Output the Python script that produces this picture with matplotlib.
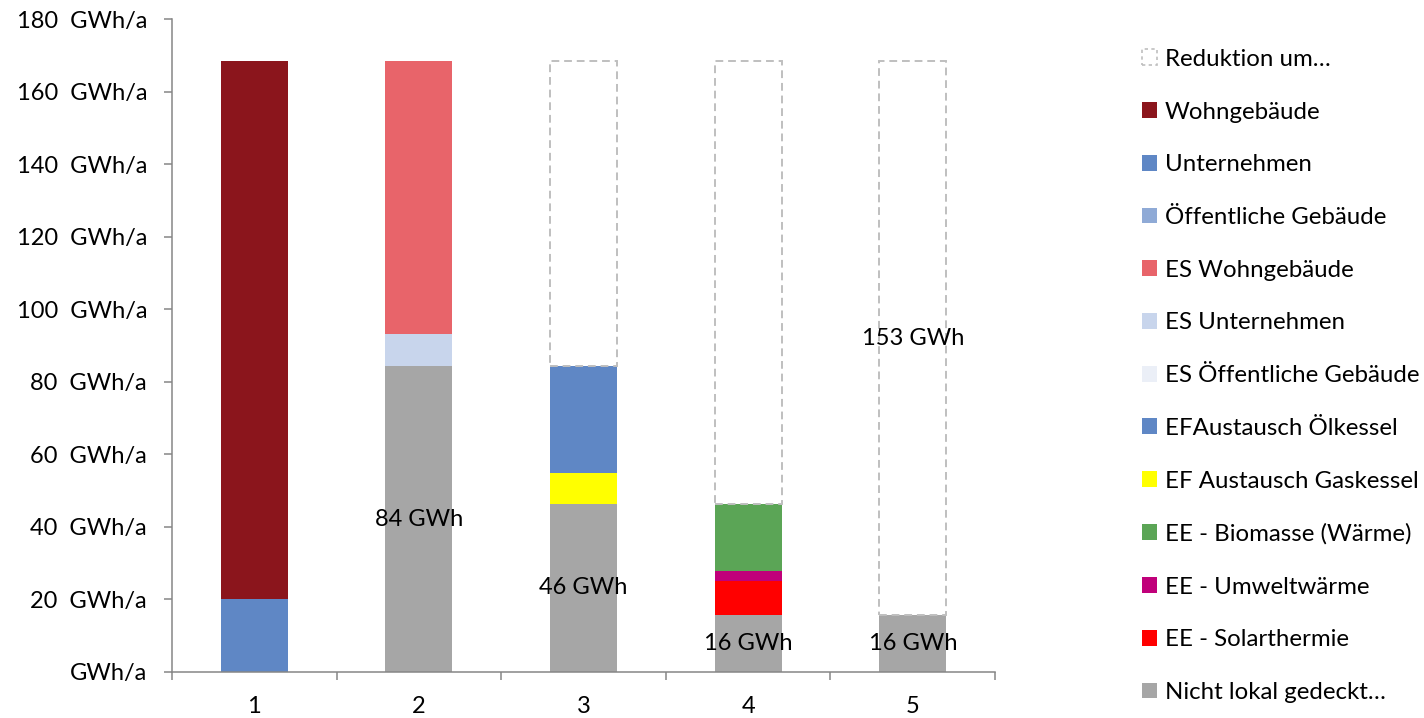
import numpy as np
import matplotlib.pyplot as plt
from matplotlib.patches import Patch
from matplotlib.ticker import FuncFormatter, FixedLocator

plt.rcParams['font.family'] = ['Lato', 'DejaVu Sans']

# bars 1..5, values in GWh/a
kategorien = ['1', '2', '3', '4', '5']
wohngebaeude = [148.2, 0, 0, 0, 0]
unternehmen = [20.2, 0, 0, 0, 0]
oeffentliche = [0, 0, 0, 0, 0]
es_wohngebaeude = [0, 75.1, 0, 0, 0]
es_unternehmen = [0, 9.0, 0, 0, 0]
es_oeffentliche = [0, 0, 0, 0, 0]
ef_oelkessel = [0, 0, 29.4, 0, 0]
ef_gaskessel = [0, 0, 8.6, 0, 0]
ee_biomasse = [0, 0, 0, 18.5, 0]
ee_umwelt = [0, 0, 0, 2.7, 0]
ee_solar = [0, 0, 0, 9.4, 0]
nicht_lokal = [0, 84.3, 46.3, 15.7, 15.7]
reduktion = [0, 0, 84.1, 122.1, 152.7]

label_nicht = ['', '84 GWh', '46 GWh', '16 GWh', '16 GWh']
label_red = ['', '', '', '', '153 GWh']

# bottom -> top
serien = [
    ('Nicht lokal gedeckt…', nicht_lokal, '#A6A6A6'),
    ('EE - Solarthermie', ee_solar, '#FF0000'),
    ('EE - Umweltwärme', ee_umwelt, '#C0007A'),
    ('EE - Biomasse (Wärme)', ee_biomasse, '#5BA556'),
    ('EF Austausch Gaskessel', ef_gaskessel, '#FFFF00'),
    ('EFAustausch Ölkessel', ef_oelkessel, '#5F87C5'),
    ('ES Öffentliche Gebäude', es_oeffentliche, '#EBEFF7'),
    ('ES Unternehmen', es_unternehmen, '#C8D5EC'),
    ('ES Wohngebäude', es_wohngebaeude, '#E8646A'),
    ('Öffentliche Gebäude', oeffentliche, '#8FAAD6'),
    ('Unternehmen', unternehmen, '#5F87C5'),
    ('Wohngebäude', wohngebaeude, '#8B151C'),
]

fs = 17
fig = plt.figure(figsize=(14.24, 7.18), dpi=100)
ax = fig.add_axes([0.1208, 0.0641, 0.578, 0.9094])

x = np.arange(1, 6)
breite = 0.407
unten = np.zeros(5)
handles = []
for name, werte, farbe in serien:
    b = ax.bar(x, werte, breite, bottom=unten, color=farbe, linewidth=0)
    if name.startswith('Nicht'):
        ax.bar_label(b, labels=label_nicht, label_type='center', fontsize=fs)
    unten += np.array(werte)
    handles.append(Patch(facecolor=farbe, edgecolor='none', label=name))

# only draw the dashed reduction boxes where there is a reduction
red = np.array(reduktion)
m = red > 0
b = ax.bar(x[m], red[m], breite, bottom=unten[m], facecolor='none',
           edgecolor='#BFBFBF', linestyle=(0, (4, 2.5)), linewidth=1.4)
ax.bar_label(b, labels=[l for l, k in zip(label_red, m) if k], label_type='center', fontsize=fs)
handles.append(Patch(facecolor='white', edgecolor='#BFBFBF', linestyle=(0, (2, 2)),
                     linewidth=1.2, label='Reduktion um…'))

ax.set_xlim(0.5, 5.5)
ax.set_ylim(0, 180)
ax.set_yticks(np.arange(0, 181, 20))
ax.yaxis.set_major_formatter(FuncFormatter(lambda v, p: 'GWh/a' if v == 0 else f'{v:.0f}  GWh/a'))
ax.set_xticks(x)
ax.set_xticklabels(kategorien)
ax.xaxis.set_minor_locator(FixedLocator(np.arange(0.5, 5.6, 1)))
ax.tick_params(axis='x', which='major', length=0, pad=17, labelsize=fs)
ax.tick_params(axis='x', which='minor', length=6, width=1.1, color='#868686', direction='out')
ax.tick_params(axis='y', length=6, width=1.1, color='#868686', pad=12, labelsize=fs)
for s in ['top', 'right']:
    ax.spines[s].set_visible(False)
for s in ['left', 'bottom']:
    ax.spines[s].set_color('#868686')
    ax.spines[s].set_linewidth(1.1)

fig.legend(handles=handles[::-1], loc='upper left', bbox_to_anchor=(0.802, 0.932),
           frameon=False, fontsize=17.3, handlelength=0.64, handleheight=0.64,
           handletextpad=0.3, labelspacing=1.32, borderpad=0, borderaxespad=0)

fig.savefig('out.png', dpi=100)
